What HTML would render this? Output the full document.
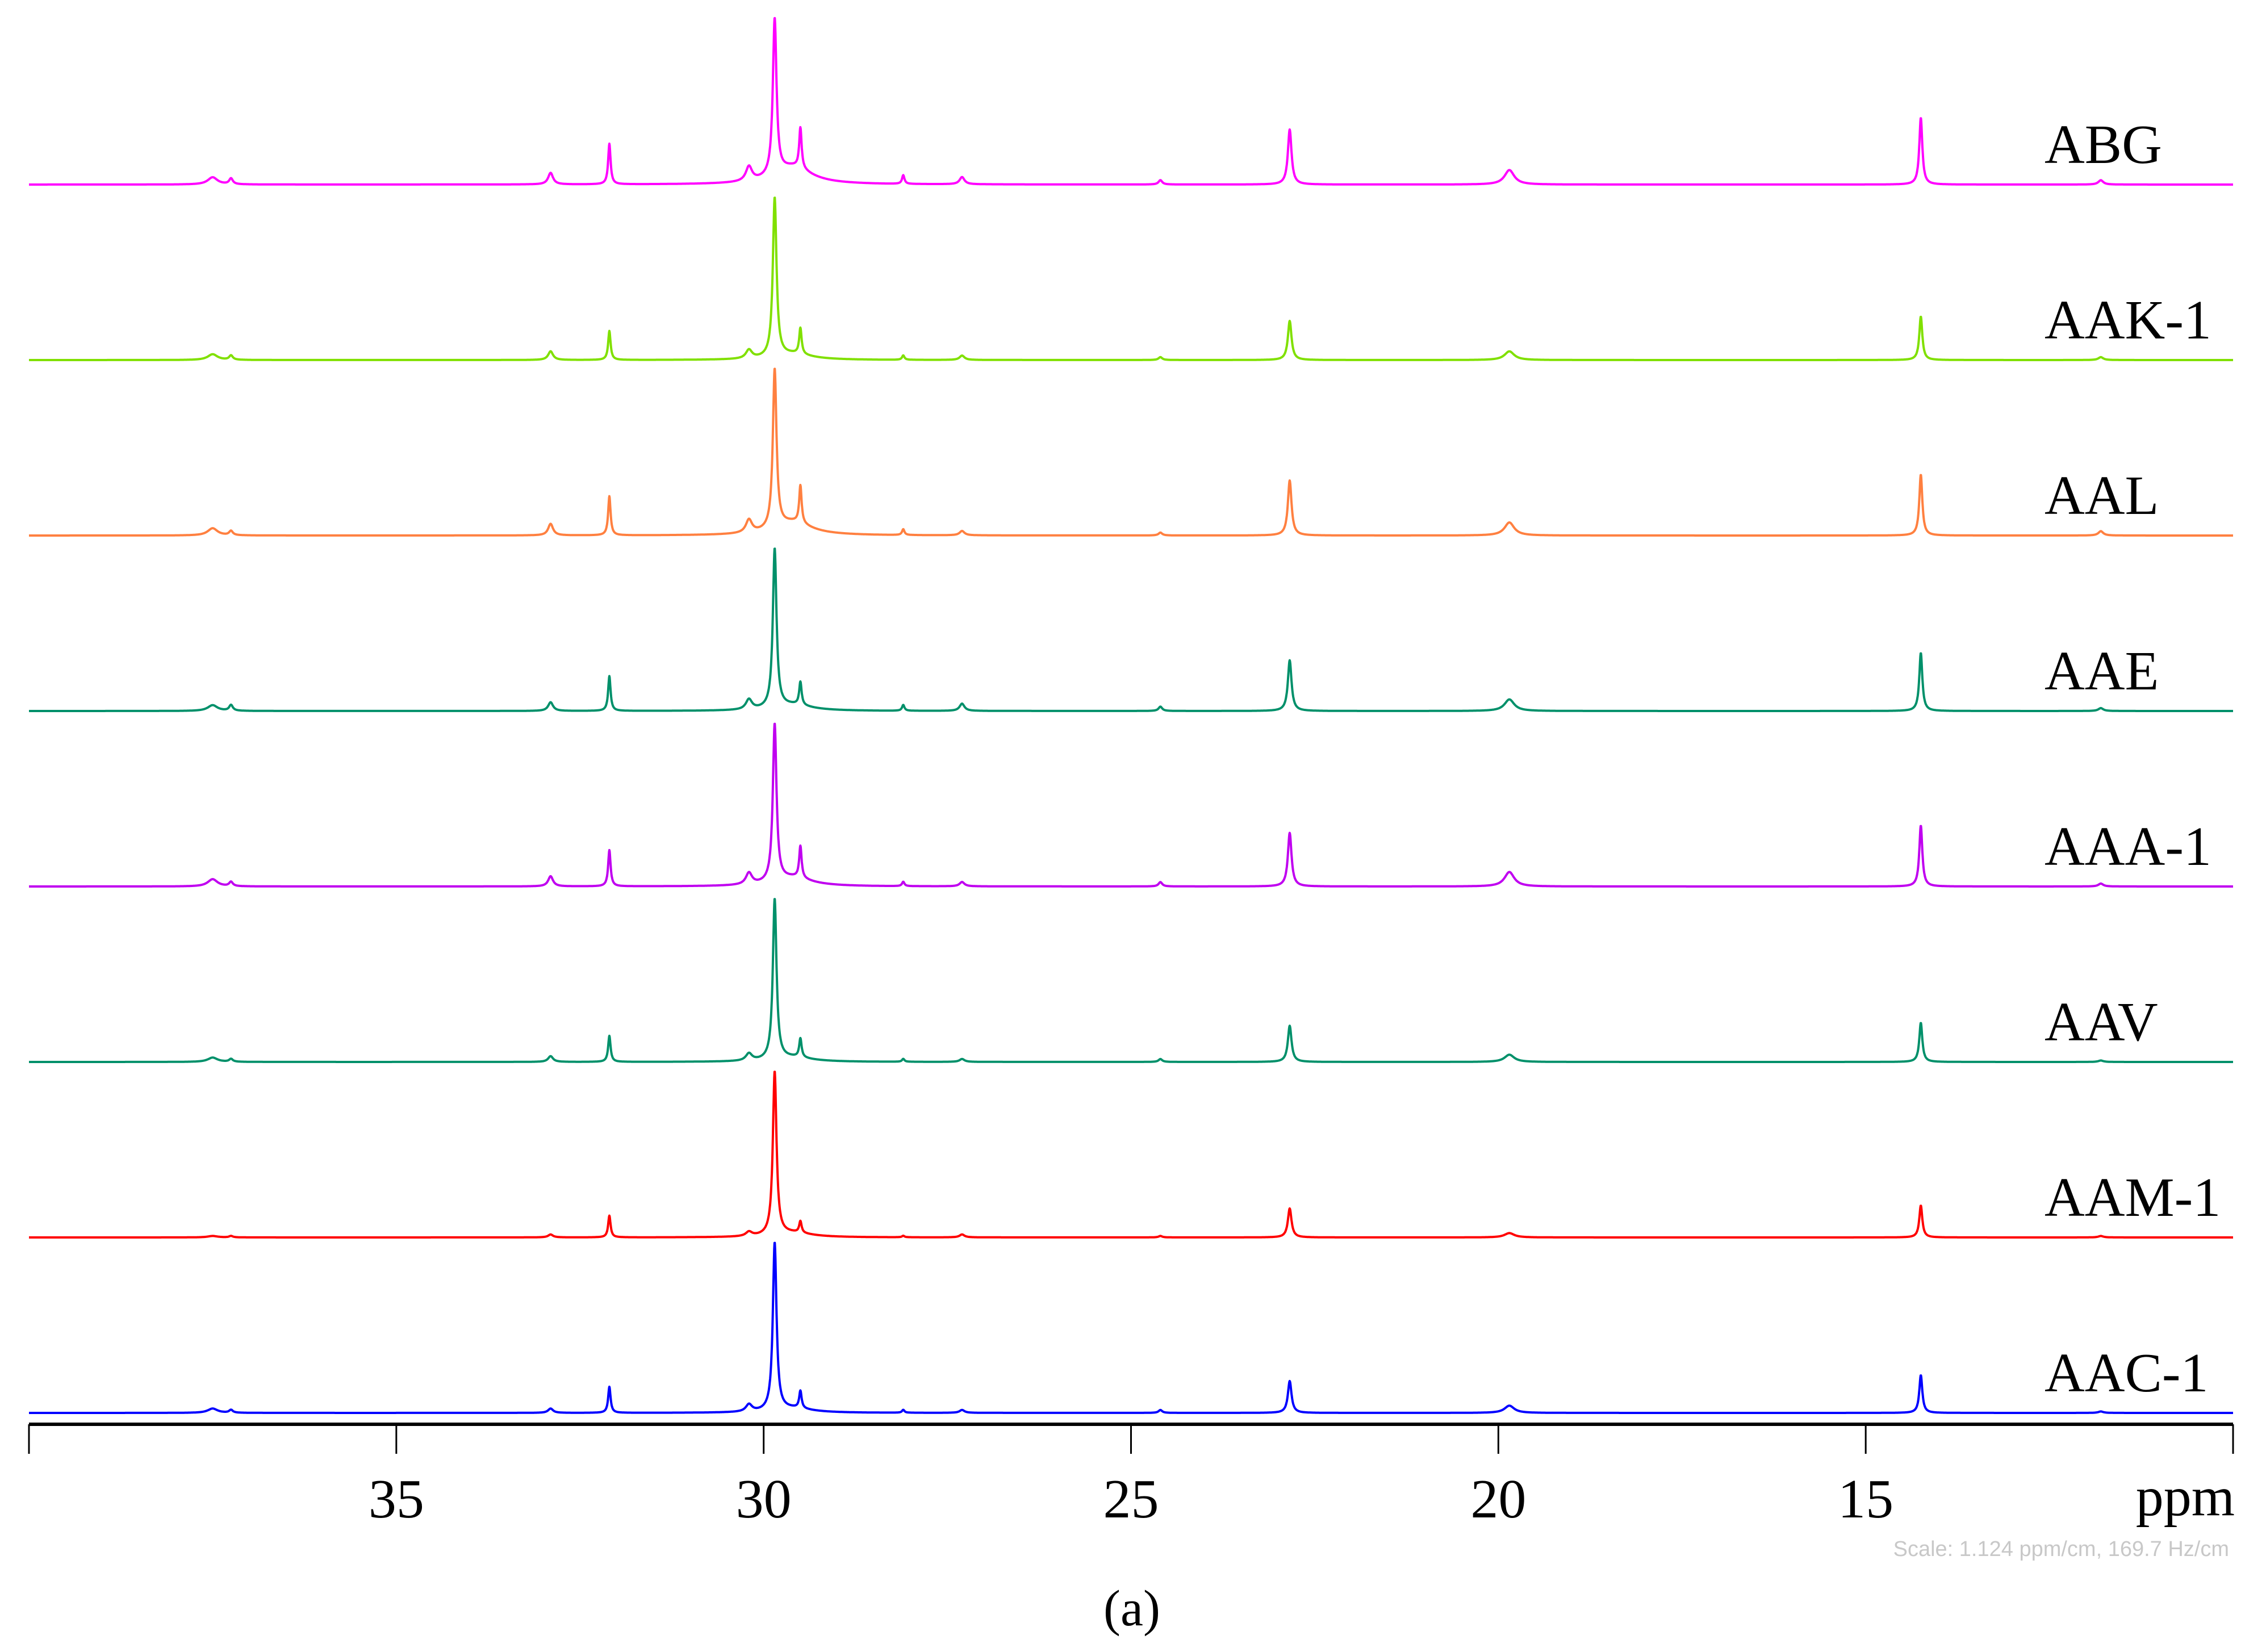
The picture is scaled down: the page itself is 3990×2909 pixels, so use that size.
<!DOCTYPE html>
<html><head><meta charset="utf-8"><style>
html,body{margin:0;padding:0;background:#fff}
svg{display:block}
text{font-family:"Liberation Serif",serif}
</style></head><body>
<svg id="chart" width="3990" height="2909" viewBox="0 0 3990 2909" xmlns="http://www.w3.org/2000/svg">
<g id="traces"></g>
<g id="axis"></g>
<text x="3925" y="2740" text-anchor="end" font-size="38" fill="#c8c8c8" style="font-family:'Liberation Sans',sans-serif">Scale: 1.124 ppm/cm, 169.7 Hz/cm</text>
<text x="1993" y="2862" text-anchor="middle" font-size="90" fill="#000">(a)</text>
</svg>
<script>
const sampleNames = ["ABG","AAK-1","AAL","AAE","AAA-1","AAV","AAM-1","AAC-1"];
const sampleColors = ["#ff00ff","#80e000","#ff8040","#00906a","#c000f0","#00906a","#ff0000","#0000ff"];
const peakPpm = [37.5, 37.25, 32.9, 32.1, 30.2, 29.85, 29.6, 29.5, 28.1, 27.3, 24.6, 22.84, 19.85, 14.25, 11.8];
const peakWidth = [0.08, 0.03, 0.04, 0.02, 0.05, 0.03, 0.3, 0.02, 0.02, 0.04, 0.03, 0.03, 0.08, 0.025, 0.04];
const hABG  = [5, 4, 8, 28, 10, 108, 12, 28, 6, 5, 3, 38, 10, 46, 3];
const hAAK  = [4, 3, 6, 20, 6, 110, 4, 18, 3, 3, 2, 27, 6, 30, 2];
const hAAL  = [5, 3, 8, 27, 9, 110, 9, 26, 4, 3, 2, 38, 9, 42, 3];
const hAAE  = [4, 4, 6, 24, 7, 110, 4, 16, 4, 5, 3, 35, 8, 40, 2];
const hAAA  = [5, 3, 7, 25, 8, 109, 6, 22, 3, 3, 3, 37, 10, 42, 2];
const hAAV  = [3, 2, 4, 18, 5, 111, 3, 13, 2, 2, 2, 25, 5, 27, 1];
const hAAM  = [1, 1, 2, 15, 3, 113, 3, 8, 1, 2, 1, 20, 3, 22, 1];
const hAAC  = [3, 2, 3, 18, 5, 116, 3, 12, 2, 2, 2, 22, 5, 26, 1];
const seriesHeights = [hABG, hAAK, hAAL, hAAE, hAAA, hAAV, hAAM, hAAC];
const tickValues = [40, 35, 30, 25, 20, 15, 10];
const tickLabels = ["", "35", "30", "25", "20", "15", ""];

const NS="http://www.w3.org/2000/svg";
const x0=51, x1=3932, ppmHi=40, ppmLo=10;
function xScale(p){return x0+(ppmHi-p)/(ppmHi-ppmLo)*(x1-x0);}
const base0=325, baseStep=309, unit=2.55;
function yBase(i){return base0+i*baseStep;}

const tg=document.getElementById('traces');
seriesHeights.forEach((hs,i)=>{
  let d="";
  for(let p=ppmHi;p>=ppmLo-0.0001;p-=0.004){
    let v=0;
    for(let k=0;k<peakPpm.length;k++){
      const dx=(p-peakPpm[k])/peakWidth[k];
      v+=hs[k]/(1+dx*dx);
    }
    const x=xScale(p), y=yBase(i)-v*unit;
    d+=(d?"L":"M")+x.toFixed(1)+" "+y.toFixed(1);
  }
  const path=document.createElementNS(NS,'path');
  path.setAttribute('d',d);
  path.setAttribute('fill','none');
  path.setAttribute('stroke',sampleColors[i]);
  path.setAttribute('stroke-width','4');
  path.setAttribute('stroke-linejoin','round');
  
  
  tg.appendChild(path);
  const t=document.createElementNS(NS,'text');
  t.setAttribute('x','3600');
  t.setAttribute('y',String(yBase(i)-38));
  t.setAttribute('font-size','98');
  t.setAttribute('fill','#000');
  t.textContent=sampleNames[i];
  
  
  tg.appendChild(t);
});

const ag=document.getElementById('axis');
const line=document.createElementNS(NS,'line');
line.setAttribute('x1',x0);line.setAttribute('x2',x1);
line.setAttribute('y1','2508');line.setAttribute('y2','2508');
line.setAttribute('stroke','#000');line.setAttribute('stroke-width','6');


ag.appendChild(line);
tickValues.forEach((v,i)=>{
  const x=xScale(v);
  const tk=document.createElementNS(NS,'line');
  tk.setAttribute('x1',x);tk.setAttribute('x2',x);
  tk.setAttribute('y1','2508');tk.setAttribute('y2','2560');
  tk.setAttribute('stroke','#000');tk.setAttribute('stroke-width','3');
  
  
  ag.appendChild(tk);
  if(tickLabels[i]){
    const t=document.createElementNS(NS,'text');
    t.setAttribute('x',x);t.setAttribute('y','2672');
    t.setAttribute('text-anchor','middle');t.setAttribute('font-size','98');
    t.textContent=tickLabels[i];
    
    
    ag.appendChild(t);
  }
});
const u=document.createElementNS(NS,'text');
u.setAttribute('x','3935');u.setAttribute('y','2668');
u.setAttribute('text-anchor','end');u.setAttribute('font-size','98');
u.textContent='ppm';


ag.appendChild(u);
</script>
</body></html>
